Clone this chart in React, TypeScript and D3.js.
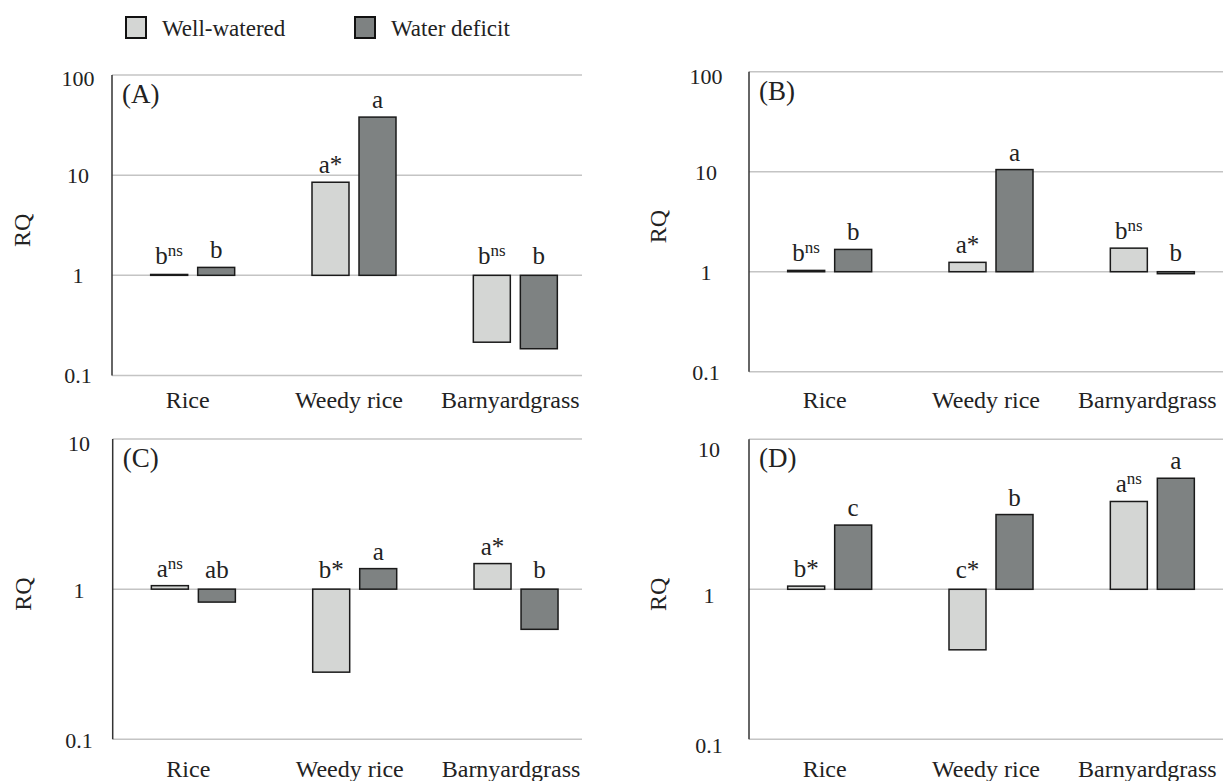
import React from "react"
import * as d3 from "d3"

const categories = ["Rice", "Weedy rice", "Barnyardgrass"]
const seriesNames = ["Well-watered", "Water deficit"]

// RQ values (log axis, bars grow from 1)
const wellWateredA = [1.02, 8.5, 0.215]
const waterDeficitA = [1.2, 38, 0.185]
const wellWateredB = [1.03, 1.24, 1.72]
const waterDeficitB = [1.67, 10.5, 0.955]
const wellWateredC = [1.055, 0.28, 1.48]
const waterDeficitC = [0.82, 1.37, 0.54]
const wellWateredD = [1.05, 0.395, 3.85]
const waterDeficitD = [2.68, 3.15, 5.5]

// letters over the bars, "^" starts the superscript
const lettersWellA = ["b^ns", "a*", "b^ns"]
const lettersDeficitA = ["b", "a", "b"]
const lettersWellB = ["b^ns", "a*", "b^ns"]
const lettersDeficitB = ["b", "a", "b"]
const lettersWellC = ["a^ns", "b*", "a*"]
const lettersDeficitC = ["ab", "a", "b"]
const lettersWellD = ["b*", "c*", "a^ns"]
const lettersDeficitD = ["c", "b", "a"]

const ticksTop = [0.1, 1, 10, 100]
const ticksBottom = [0.1, 1, 10]
const tickLabels: Record<number, string> = { 0.1: "0.1", 1: "1", 10: "10", 100: "100" }

const colors = ["#d4d6d4", "#7e8282"]
const font = "Liberation Serif"
const ink = "#222"

const panels = [
  { name: "(A)", series: [wellWateredA, waterDeficitA], letters: [lettersWellA, lettersDeficitA], ticks: ticksTop, left: 112, top: 75, right: 582, bottom: 375.5, tickX: 78, tickDy: 0, rqX: 22, catY: 408 },
  { name: "(B)", series: [wellWateredB, waterDeficitB], letters: [lettersWellB, lettersDeficitB], ticks: ticksTop, left: 749, top: 71.7, right: 1223, bottom: 371.7, tickX: 706, tickDy: 1, rqX: 658, catY: 408 },
  { name: "(C)", series: [wellWateredC, waterDeficitC], letters: [lettersWellC, lettersDeficitC], ticks: ticksBottom, left: 112.7, top: 439, right: 582, bottom: 739.3, tickX: 79, tickDy: 1, rqX: 23, catY: 777 },
  { name: "(D)", series: [wellWateredD, waterDeficitD], letters: [lettersWellD, lettersDeficitD], ticks: ticksBottom, left: 749, top: 439.3, right: 1223, bottom: 739.3, tickX: 709, tickDy: 6, rqX: 658, catY: 777 },
]

const legendX = [126, 355]

function Panel({ p }: { p: (typeof panels)[number] }) {
  const y = d3.scaleLog().domain([0.1, d3.max(p.ticks) as number]).range([p.bottom, p.top])
  const x = d3.scaleBand().domain(categories).range([p.left, p.left + 484])
  const x1 = d3.scaleBand().domain(seriesNames).range([-42, 42]).paddingInner(0.213)
  const y1 = y(1)

  return (
    <g>
      {p.ticks.map(t => (
        <line key={"g" + t} x1={p.left} x2={p.right} y1={y(t)} y2={y(t)} stroke="#c4c4c4" strokeWidth={1.5} />
      ))}
      {p.ticks.map(t => (
        <text
          key={"t" + t}
          x={p.tickX}
          y={Math.max(y(t), p.top + 4) + p.tickDy}
          dy="0.34em"
          textAnchor="middle"
          style={{ fontFamily: font, fontSize: 22 }}
          fill={ink}
        >
          {tickLabels[t]}
        </text>
      ))}
      <line x1={p.left} x2={p.left} y1={p.top} y2={p.bottom} stroke="#333" strokeWidth={1.5} />

      {p.series.map((vals, si) =>
        vals.map((v, i) => {
          const bx = (x(categories[i]) as number) + x.bandwidth() / 2 + (x1(seriesNames[si]) as number)
          const yv = y(v)
          const parts = p.letters[si][i].split("^")
          return (
            <g key={si + "-" + i}>
              <rect
                x={bx}
                width={x1.bandwidth()}
                y={Math.min(yv, y1)}
                height={Math.abs(yv - y1)}
                fill={colors[si]}
                stroke="#1a1a1a"
                strokeWidth={1.5}
              />
              <text
                x={bx + x1.bandwidth() / 2}
                y={Math.min(yv, y1 - 2) - 9}
                textAnchor="middle"
                style={{ fontFamily: font, fontSize: 25 }}
                fill={ink}
              >
                <tspan>{parts[0]}</tspan>
                {parts[1] ? (
                  <tspan dy={-8} style={{ fontSize: 17 }}>
                    {parts[1]}
                  </tspan>
                ) : null}
              </text>
            </g>
          )
        })
      )}

      {categories.map(c => (
        <text
          key={c}
          x={(x(c) as number) + x.bandwidth() / 2 - 5}
          y={p.catY}
          textAnchor="middle"
          style={{ fontFamily: font, fontSize: 24 }}
          fill={ink}
        >
          {c}
        </text>
      ))}

      <text
        transform={`translate(${p.rqX},${(p.top + p.bottom) / 2 + 5}) rotate(-90)`}
        dy="0.34em"
        textAnchor="middle"
        style={{ fontFamily: font, fontSize: 24 }}
        fill={ink}
      >
        RQ
      </text>

      <text x={p.left + 10} y={p.top + 28} style={{ fontFamily: font, fontSize: 27 }} fill={ink}>
        {p.name}
      </text>
    </g>
  )
}

export default function App() {
  return (
    <svg width={1223} height={781} style={{ position: "absolute", left: 0, top: 0, background: "#fff" }}>
      {seriesNames.map((s, i) => (
        <g key={s}>
          <rect x={legendX[i]} y={17} width={20} height={21} fill={colors[i]} stroke="#111" strokeWidth={2} />
          <text x={legendX[i] + 36} y={36} style={{ fontFamily: font, fontSize: 23 }} fill={ink}>
            {s}
          </text>
        </g>
      ))}
      {panels.map(p => (
        <Panel key={p.name} p={p} />
      ))}
    </svg>
  )
}
